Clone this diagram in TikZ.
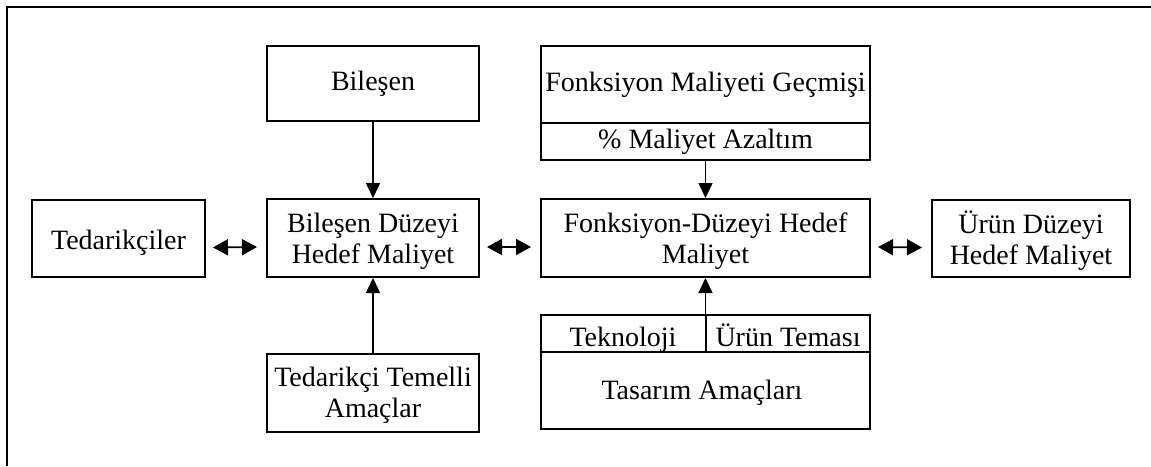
\documentclass[tikz,border=0pt]{standalone}
\usepackage{fontspec}
\setmainfont{Liberation Serif}
\usetikzlibrary{arrows.meta,calc}
\begin{document}
\begin{tikzpicture}[x=1pt,y=-1pt,
  box/.style={draw,line width=2pt,inner sep=0pt,align=center,
    font=\fontsize{28}{31}\selectfont},
  lbl/.style={inner sep=0pt,align=center,font=\fontsize{28}{31}\selectfont},
  rule/.style={line width=2pt},
  link/.style={line width=1.6pt,-{Triangle[length=15pt,width=14pt]}},
  both/.style={line width=1.8pt,
    {Triangle[length=15pt,width=16pt]}-{Triangle[length=15pt,width=16pt]}},
]
\useasboundingbox (0,0) rectangle (1151,466);
% open frame: top and left sides only
\draw[rule,line width=2.2pt] (7,466) -- (7,7) -- (1151,7);

% left column
\node[box,minimum width=173pt,minimum height=77pt] (ted) at (118.5,238.5) {};
\node[lbl] (tedtxt) at (118.5,243) {Tedarikçiler};

% middle-left column
\node[box,minimum width=212pt,minimum height=75pt] (bil) at (373,83.5) {Bileşen};
\node[box,minimum width=212pt,minimum height=78pt] (bdhm) at (373,238) {};
\node[lbl] (bdhmtxt) at (373,241) {Bileşen Düzeyi\\Hedef Maliyet};
\node[box,minimum width=212pt,minimum height=78pt] (tta) at (373,393) {};
\node[lbl] (ttatxt) at (373,395) {Tedarikçi Temelli\\Amaçlar};

% middle-right column: cost history with reduction strip
\node[box,minimum width=329pt,minimum height=114pt] (fmg) at (705.5,103) {};
\path (fmg.south west) ++(0,-38) coordinate (fmgL);
\path (fmg.south east) ++(0,-38) coordinate (fmgR);
\draw[rule] (fmgL) -- (fmgR);
\node[lbl] (fmgtop) at (705.5,85) {Fonksiyon Maliyeti Geçmişi};
\node[lbl] (fmgbot) at (705.5,142) {\% Maliyet Azaltım};

\node[box,minimum width=329pt,minimum height=78pt] (fdhm) at (705.5,238) {};
\node[lbl] (fdhmtxt) at (705.5,241) {Fonksiyon-Düzeyi Hedef\\Maliyet};

% design goals with two sub-cells on top
\node[box,minimum width=329pt,minimum height=114pt] (tas) at (705.5,372) {};
\path (tas.north west) ++(0,38) coordinate (tasL);
\path (tas.north east) ++(0,38) coordinate (tasR);
\draw[rule] (tasL) -- (tasR);
\coordinate (tasM) at ($(tasL)!0.5!(tasR)$);
\draw[rule] (tas.north) -- (tasM);
\node[lbl] (tek) at (623,340) {Teknoloji};
\node[lbl] (tema) at (788,335) {Ürün Teması};
\node[lbl] (amac) at (702,393) {Tasarım Amaçları};

% right column
\node[box,minimum width=198pt,minimum height=77pt] (urun) at (1031,238.5) {};
\node[lbl] (uruntxt) at (1031,241) {Ürün Düzeyi\\Hedef Maliyet};

% vertical connectors
\draw[link] (bil) -- (bdhm);
\draw[link] (tta) -- (bdhm);
\draw[link] (fmg) -- (fdhm);
\draw[link] (tas) -- (fdhm);

% two-way connectors
\draw[both] ($(ted.east)+(7,9)$) -- ($(bdhm.west)+(-9,9)$);
\draw[both] ($(bdhm.east)+(7,9)$) -- ($(fdhm.west)+(-9,9)$);
\draw[both] ($(fdhm.east)+(7,9)$) -- ($(urun.west)+(-9,9)$);
\end{tikzpicture}
\end{document}
